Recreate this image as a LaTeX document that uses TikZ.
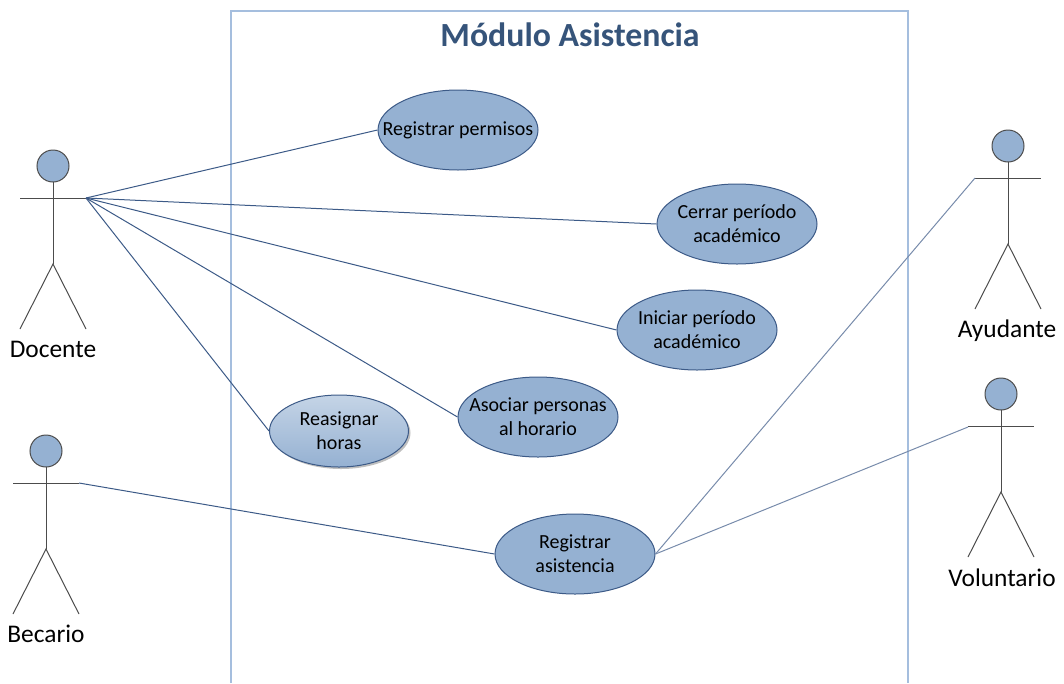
\documentclass[tikz,border=0pt]{standalone}
\usepackage{fontspec}
\setmainfont{Carlito}
\usetikzlibrary{shapes.geometric,shadows}
\definecolor{fillblue}{RGB}{149,177,210}
\definecolor{edgeblue}{RGB}{60,90,135}
\definecolor{boxblue}{RGB}{165,190,222}
\definecolor{titleblue}{RGB}{54,84,122}
\tikzset{%
    usecase/.style={%
        draw=edgeblue,
        line width=1pt,
        fill=fillblue,
        shape=ellipse,
        inner xsep=-30pt,
        inner ysep=-10pt,
        minimum width=160pt,
        minimum height=80pt,
        align=center,
        font=\fontsize{20}{24}\selectfont
    },
    link/.style={edgeblue,line width=1pt},
    stick/.style={black!70,line width=1pt},
    actorname/.style={font=\fontsize{25.4}{30}\selectfont}
}
\newcommand{\actor}[5]{%
    \coordinate (#1hand) at (#2+33,#3+32);
    \draw[stick,fill=fillblue] (#2,#3) circle (16pt);
    \draw[stick] (#2-33,#3+32) -- (#1hand);
    \draw[stick] (#2,#3+16) -- (#2,#3+98);
    \draw[stick] (#2-33,#3+163) -- (#2,#3+98) -- (#2+33,#3+163);
    \node[actorname] (#1) at (#2+#4,#3+#5) {#1};
}

\begin{document}
\begin{tikzpicture}[x=1pt,y=-1pt]
\useasboundingbox (0,0) rectangle (1064,683);

% system box, open at the bottom
\draw[boxblue,line width=1.5pt] (231,683) -- (231,11) -- (908,11) -- (908,683);
\node[text=titleblue,font=\bfseries\fontsize{33.8}{38}\selectfont] (title) at (570,35) {Módulo Asistencia};

\node[usecase] (permisos) at (458,130) {Registrar permisos};
\node[usecase] (cerrar) at (737,224) {Cerrar período\\académico};
\node[usecase] (iniciar) at (697,330) {Iniciar período\\académico};
\node[usecase] (asociar) at (538,417) {Asociar personas\\al horario};
\node[usecase] (registrar) at (575,554) {Registrar\\asistencia};
\node[usecase,minimum width=139pt,minimum height=72pt,fill=none,top color=fillblue!55,bottom color=fillblue,
    drop shadow={shadow xshift=2pt,shadow yshift=-2pt,fill=black!50}] (reasignar) at (339,431) {Reasignar\\horas};

\actor{Docente}{53}{166}{0}{183}
\actor{Becario}{46}{451}{0}{183}
\actor{Ayudante}{1008}{146}{-1}{185}
\actor{Voluntario}{1001}{394}{1}{184}

\draw[link] (Docentehand) -- (permisos.west);
\draw[link] (Docentehand) -- (cerrar.west);
\draw[link] (Docentehand) -- (iniciar.west);
\draw[link] (Docentehand) -- (asociar.west);
\draw[link] (Docentehand) -- (reasignar.west);
\draw[link] (Becariohand) -- (registrar.west);
\coordinate (Ayudantearm) at (975,178);
\coordinate (Voluntarioarm) at (968,427);
\draw[link,edgeblue!70] (Ayudantearm) -- (registrar.east);
\draw[link,edgeblue!70] (Voluntarioarm) -- (registrar.east);
\end{tikzpicture}
\end{document}
